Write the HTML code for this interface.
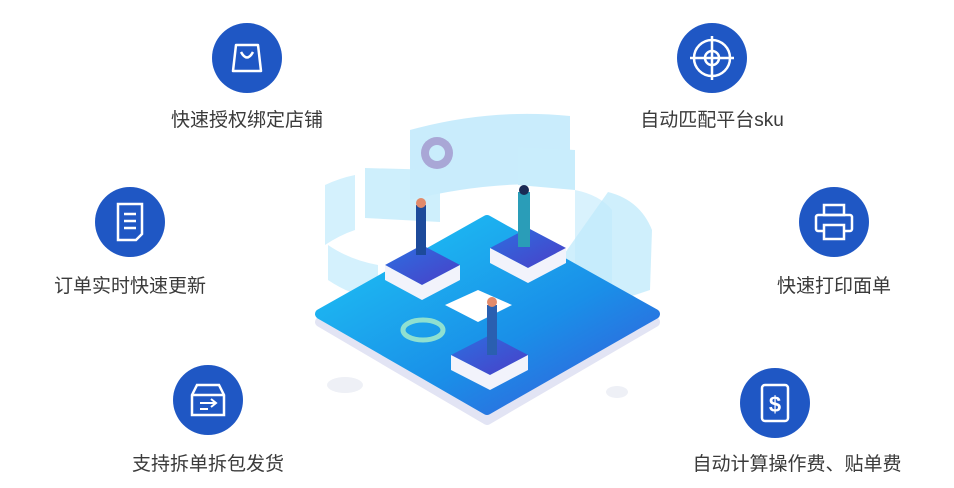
<!DOCTYPE html>
<html><head><meta charset="utf-8"><style>
body{margin:0;width:954px;height:488px;background:#fff;overflow:hidden;position:relative;font-family:"Liberation Sans","Noto Sans CJK SC",sans-serif}
.c{position:absolute;width:70px;height:70px;border-radius:50%;background:#1f57c4}
.c svg{position:absolute;left:0;top:0}
.t{position:absolute;font-size:19px;color:#3a3a3a;white-space:nowrap;transform:translateX(-50%)}
</style></head><body>
<svg width="954" height="488" style="position:absolute;left:0;top:0">
<defs>
<linearGradient id="pl" x1="0" y1="0" x2="1" y2="1"><stop offset="0" stop-color="#1ec8f5"/><stop offset="0.6" stop-color="#1a8fe8"/><stop offset="1" stop-color="#3a56d8"/></linearGradient>
<linearGradient id="bx" x1="0" y1="0" x2="1" y2="1"><stop offset="0" stop-color="#2c6fe0"/><stop offset="1" stop-color="#4a3fc8"/></linearGradient>
</defs>
<path d="M410 130 Q490 108 570 116 L570 185 Q490 180 410 200Z" fill="#bfe9fb" opacity=".85"/>
<path d="M365 168 L440 170 L440 222 L365 218Z" fill="#c9edfc" opacity=".9"/>
<path d="M518 147 L575 150 L575 190 L518 185Z" fill="#c9edfc"/>
<path d="M325 185 Q340 178 355 175 L355 230 Q340 235 325 245Z" fill="#c9edfc" opacity=".8"/>
<path d="M328 245 Q350 260 378 265 L378 300 Q350 295 328 280Z" fill="#c9edfc" opacity=".8"/>
<path d="M575 190 Q600 195 612 210 L612 300 L575 290Z" fill="#c9edfc" opacity=".7"/>
<path d="M608 192 Q640 200 652 230 L650 290 L560 320 L560 260Z" fill="#bfe9fb" opacity=".75"/>
<circle cx="437" cy="153" r="16" fill="#a9a7d6"/><circle cx="437" cy="153" r="8" fill="#c9edfc"/>
<path d="M320 322 L487 228 L655 322 L487 420Z" fill="#e2e4f4" stroke="#e2e4f4" stroke-width="10" stroke-linejoin="round"/>
<path d="M320 314 L487 220 L655 314 L487 410Z" fill="url(#pl)" stroke="url(#pl)" stroke-width="10" stroke-linejoin="round"/>
<path d="M385 265 L422 245 L460 265 L422 285Z" fill="url(#bx)"/><path d="M385 265 L422 285 L460 265 L460 280 L422 300 L385 280Z" fill="#f2f3fb"/>
<path d="M490 248 L528 228 L566 248 L528 268Z" fill="url(#bx)"/><path d="M490 248 L528 268 L566 248 L566 263 L528 283 L490 263Z" fill="#f2f3fb"/>
<path d="M451 355 L490 335 L528 355 L490 375Z" fill="url(#bx)"/><path d="M451 355 L490 375 L528 355 L528 370 L490 390 L451 370Z" fill="#f2f3fb"/>
<path d="M445 305 L478 290 L512 305 L478 322Z" fill="#fff"/>
<ellipse cx="423" cy="330" rx="20" ry="10" fill="none" stroke="#8fe0d0" stroke-width="5"/>
<rect x="416" y="205" width="10" height="50" fill="#1d4a9a"/><circle cx="421" cy="203" r="5" fill="#e28a6a"/>
<rect x="518" y="192" width="12" height="55" fill="#2a9db8"/><circle cx="524" cy="190" r="5" fill="#1a2a55"/>
<rect x="487" y="305" width="10" height="50" fill="#2a5fb0"/><circle cx="492" cy="302" r="5" fill="#e28a6a"/>
<ellipse cx="345" cy="385" rx="18" ry="8" fill="#eef0f6"/>
<ellipse cx="617" cy="392" rx="11" ry="6" fill="#eef0f6"/>
</svg>
<div class="c" style="left:212px;top:23px"><svg width="70" height="70"><path d="M24 22 H46 L49 48 H21Z" fill="none" stroke="#fff" stroke-width="2.5" stroke-linejoin="round"/><path d="M29 29 Q35 40 41 29" fill="none" stroke="#fff" stroke-width="2.5"/></svg></div>
<div class="t" style="left:247px;top:105px">快速授权绑定店铺</div>
<div class="c" style="left:677px;top:23px"><svg width="70" height="70"><circle cx="35" cy="35" r="18" fill="none" stroke="#fff" stroke-width="2.5"/><circle cx="35" cy="35" r="7" fill="none" stroke="#fff" stroke-width="2.5"/><path d="M35 13V57M13 35H57" stroke="#fff" stroke-width="2.5"/></svg></div>
<div class="t" style="left:712px;top:105px">自动匹配平台sku</div>
<div class="c" style="left:95px;top:187px"><svg width="70" height="70"><path d="M23 17 H47 V47 L41 53 H23Z" fill="none" stroke="#fff" stroke-width="2.5"/><path d="M29 27H41M29 34H41M29 41H41" stroke="#fff" stroke-width="2.5"/></svg></div>
<div class="t" style="left:130px;top:271px">订单实时快速更新</div>
<div class="c" style="left:799px;top:187px"><svg width="70" height="70"><rect x="25" y="18" width="20" height="10" fill="none" stroke="#fff" stroke-width="2.5"/><rect x="17" y="28" width="36" height="16" rx="2" fill="none" stroke="#fff" stroke-width="2.5"/><rect x="25" y="38" width="20" height="14" fill="#1f57c4" stroke="#fff" stroke-width="2.5"/></svg></div>
<div class="t" style="left:834px;top:271px">快速打印面单</div>
<div class="c" style="left:173px;top:365px"><svg width="70" height="70"><path d="M19 30 L24 20 H46 L51 30 V50 H19Z M19 30H51" fill="none" stroke="#fff" stroke-width="2.5"/><path d="M27 38H43M38 34L43 38L38 42M27 44H35" fill="none" stroke="#fff" stroke-width="2"/></svg></div>
<div class="t" style="left:208px;top:449px">支持拆单拆包发货</div>
<div class="c" style="left:740px;top:368px"><svg width="70" height="70"><rect x="22" y="17" width="26" height="36" rx="3" fill="none" stroke="#fff" stroke-width="2.5"/><text x="35" y="44" fill="#fff" font-size="22" font-weight="bold" text-anchor="middle" font-family="Liberation Sans">$</text></svg></div>
<div class="t" style="left:797px;top:449px">自动计算操作费、贴单费</div>
</body></html>
